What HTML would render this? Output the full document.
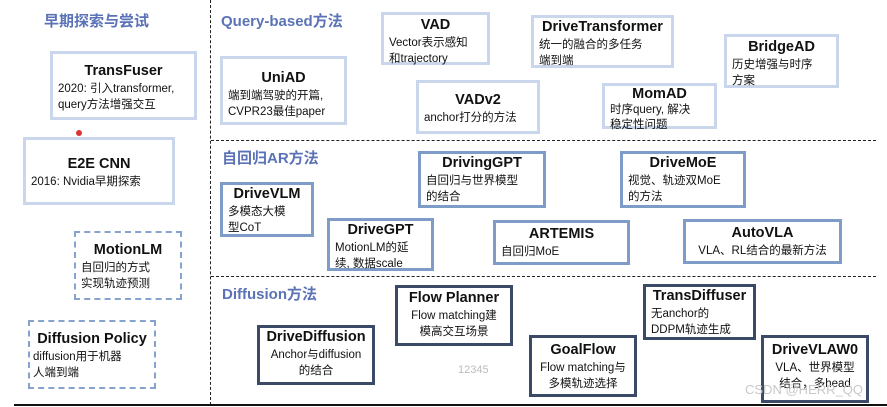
<!DOCTYPE html>
<html><head><meta charset="utf-8"><style>
body{margin:0;width:887px;height:407px;background:#fff;position:relative;overflow:hidden;font-family:"Liberation Sans","Noto Sans CJK SC",sans-serif;color:#111}
.b{position:absolute;box-sizing:border-box;background:#fff;padding:2px 5px;font-size:11.5px;line-height:16px;white-space:nowrap}
.b b{display:block;text-align:center;font-size:14.5px;line-height:19px}
.l{border:3px solid #c9d6ec}
.m{border:3px solid #7f9cc8}
.d{border:3px solid #3b4a66}
.s{border:2.5px dashed #86a2cf}
.h{position:absolute;color:#5b73b6;font-weight:bold;font-size:15px}
.c{text-align:center}
</style></head><body>
<div style="position:absolute;left:210px;top:0;height:405px;border-left:1.5px dashed #222"></div>
<div style="position:absolute;left:211px;top:140px;width:665px;border-top:1.5px dashed #222"></div>
<div style="position:absolute;left:211px;top:276px;width:665px;border-top:1.5px dashed #222"></div>
<div style="position:absolute;left:14px;top:404px;width:873px;border-top:2px solid #111"></div>

<div class="h" style="left:44px;top:10px">早期探索与尝试</div>
<div class="h" style="left:221px;top:10px">Query-based方法</div>
<div class="h" style="left:222px;top:147px">自回归AR方法</div>
<div class="h" style="left:222px;top:283px">Diffusion方法</div>

<div class="b l" style="left:50px;top:51px;width:147px;height:69px;padding-top:8px"><b>TransFuser</b>2020: 引入transformer,<br>query方法增强交互</div>
<div style="position:absolute;left:76px;top:130px;width:6px;height:6px;border-radius:50%;background:#d33"></div>
<div class="b l" style="left:23px;top:137px;width:152px;height:68px;padding-top:15px"><b>E2E CNN</b>2016: Nvidia早期探索</div>
<div class="b s" style="left:74px;top:231px;width:108px;height:69px;padding-top:8px"><b>MotionLM</b>自回归的方式<br>实现轨迹预测</div>
<div class="b s" style="left:28px;top:320px;width:128px;height:69px;padding:8px 3px 0"><b>Diffusion Policy</b>diffusion用于机器<br>人端到端</div>

<div class="b l" style="left:220px;top:56px;width:127px;height:69px;padding-top:10px"><b>UniAD</b>端到端驾驶的开篇,<br>CVPR23最佳paper</div>
<div class="b l" style="left:381px;top:12px;width:109px;height:53px;padding-top:1px"><b>VAD</b>Vector表示感知<br>和trajectory</div>
<div class="b l" style="left:416px;top:80px;width:124px;height:54px;padding-top:8px"><b>VADv2</b>anchor打分的方法</div>
<div class="b l" style="left:531px;top:15px;width:143px;height:53px;padding-top:0"><b>DriveTransformer</b>统一的融合的多任务<br>端到端</div>
<div class="b l" style="left:602px;top:83px;width:115px;height:46px;padding-top:0;line-height:15px"><b style="line-height:17px">MomAD</b>时序query, 解决<br>稳定性问题</div>
<div class="b l" style="left:724px;top:34px;width:115px;height:54px;padding-top:1px"><b>BridgeAD</b>历史增强与时序<br>方案</div>

<div class="b m" style="left:220px;top:182px;width:94px;height:55px;padding-top:0"><b>DriveVLM</b>多模态大模<br>型CoT</div>
<div class="b m" style="left:327px;top:218px;width:107px;height:53px;padding-top:0"><b>DriveGPT</b>MotionLM的延<br>续, 数据scale</div>
<div class="b m" style="left:418px;top:151px;width:128px;height:57px;padding-top:0"><b>DrivingGPT</b>自回归与世界模型<br>的结合</div>
<div class="b m" style="left:620px;top:151px;width:126px;height:57px;padding-top:0"><b>DriveMoE</b>视觉、轨迹双MoE<br>的方法</div>
<div class="b m" style="left:493px;top:220px;width:137px;height:45px;padding-top:2px"><b>ARTEMIS</b>自回归MoE</div>
<div class="b m" style="left:683px;top:219px;width:159px;height:45px;padding-top:2px"><b>AutoVLA</b><span class="c" style="display:block">VLA、RL结合的最新方法</span></div>

<div class="b d c" style="left:257px;top:325px;width:118px;height:60px;padding-top:0"><b>DriveDiffusion</b>Anchor与diffusion<br>的结合</div>
<div class="b d c" style="left:395px;top:285px;width:118px;height:61px;padding-top:1px"><b>Flow Planner</b>Flow matching建<br>模高交互场景</div>
<div class="b d c" style="left:529px;top:335px;width:108px;height:62px;padding-top:3px"><b>GoalFlow</b>Flow matching与<br>多模轨迹选择</div>
<div class="b d" style="left:643px;top:284px;width:113px;height:56px;padding-top:0"><b>TransDiffuser</b>无anchor的<br>DDPM轨迹生成</div>
<div class="b d c" style="left:761px;top:335px;width:108px;height:68px;padding-top:3px"><b>DriveVLAW0</b>VLA、世界模型<br>结合，多head</div>
<div style="position:absolute;left:458px;top:364px;font-size:11px;color:#bbb">12345</div>
<div style="position:absolute;left:745px;top:382px;font-size:13px;color:#c8c8c8">CSDN @HERR_QQ</div>
</body></html>
